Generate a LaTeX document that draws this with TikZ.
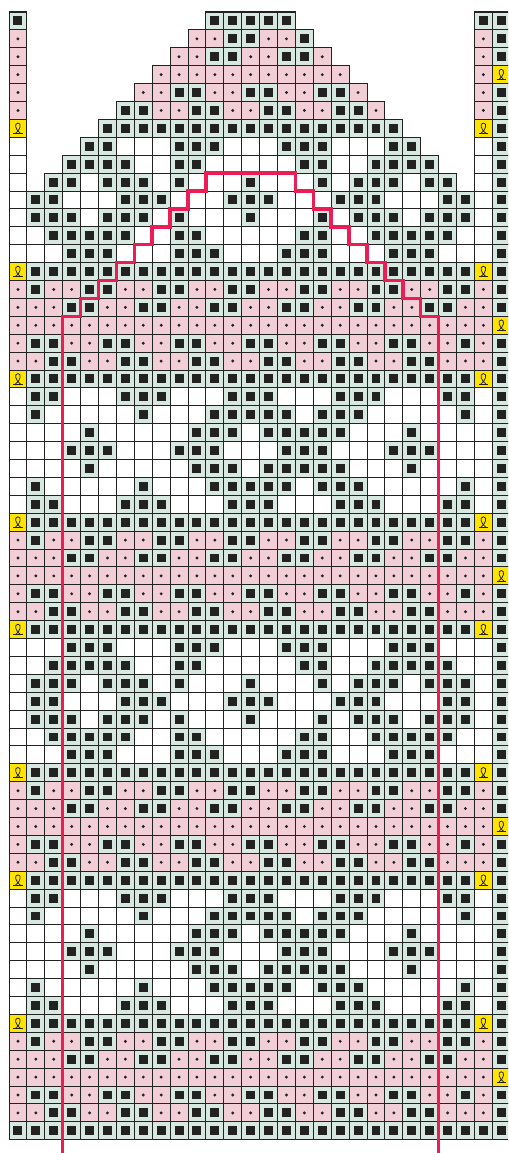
\documentclass[tikz,border=0pt]{standalone}
\definecolor{chartMint}{HTML}{D6E8E0}
\definecolor{chartPink}{HTML}{F2CFD6}
\definecolor{chartYellow}{HTML}{FFE400}
\definecolor{chartRed}{HTML}{EC1C54}
\definecolor{chartInk}{HTML}{222222}

% g = knit square, p = purl dot, w = plain, y = loop, e = no stitch
\newcommand{\rowsolid}{y ggggg ggggg ggggg ggggg ggggg yg}
\newcommand{\rowdots}{p ppppp ppppp ppppp ppppp ppppp py}
\newcommand{\rowdiagA}{p g ppgg ppgg ppgg ppgg ppgg ppgg pg}
\newcommand{\rowdiagB}{p ppgg ppgg ppgg ppgg ppgg ppgg p pg}
\newcommand{\rowdiagC}{p ggpp ggpp ggpp ggpp ggpp ggpp g pg}
\newcommand{\rowdiagD}{p p ggpp ggpp ggpp ggpp ggpp ggpp pg}
\newcommand{\rowcrossA}{w ww ggg www ggg www ggg www ggg ww wg}
\newcommand{\rowcrossB}{w w ggggg ww gg wwwww gg ww ggggg w wg}
\newcommand{\rowcrossC}{w ggg w ggg w g www g www g w ggg w ggg wg}
\newcommand{\rowcrossD}{w gg www ggg www ggg www ggg www gg wg}
\newcommand{\rowdiamB}{w g wwwww g www ggggg w ggg wwwww g wg}
\newcommand{\rowdiamC}{w www g wwwww ggg w ggggg www g www wg}

\newcount\chartcol
\newcommand{\cellrow}[2]{\chartcol=0 \edef\celltmp{\noexpand\cellnext{#1}#2.}\celltmp}
\def\cellnext#1#2{%
  \ifx.#2\let\cellgo\relax
  \else\def\cellgo{\pic at (\the\chartcol,-#1) {cell#2};\advance\chartcol by 1 \cellnext{#1}}%
  \fi\cellgo}

\tikzset{
  cellbox/.style={draw=chartInk, line width=0.8pt},
  trimline/.style={chartRed, line width=2.8pt},
  cellg/.pic={\filldraw[cellbox, fill=chartMint] (0,0) rectangle (1,-1);
    \fill[chartInk] (0.25,-0.25) rectangle (0.75,-0.75);},
  cellp/.pic={\filldraw[cellbox, fill=chartPink] (0,0) rectangle (1,-1);
    \fill[chartInk] (0.5,-0.5) circle (0.09);},
  cellw/.pic={\filldraw[cellbox, fill=white] (0,0) rectangle (1,-1);},
  celly/.pic={\filldraw[cellbox, fill=chartYellow] (0,0) rectangle (1,-1);
    \draw[chartInk, line width=0.6pt] (0.24,-0.78) -- (0.76,-0.78);
    \draw[chartInk, line width=0.6pt] (0.36,-0.78) .. controls (0.62,-0.62) and (0.74,-0.2) .. (0.5,-0.2)
      .. controls (0.26,-0.2) and (0.38,-0.62) .. (0.64,-0.78);},
  celle/.pic={}
}

\begin{document}
\begin{tikzpicture}[x=0.5cm, y=0.5cm]
   \useasboundingbox (-0.503,0.670) rectangle (27.877,-63.74);
   \clip (-0.503,0.670) rectangle (27.877,-63.74);
   % Chart cells, one string per row
   \foreach \codes [count=\rowno from 0] in {
      g eeeeeeeeee ggggg eeeeeeeeee gg,
      p eeeeeeeee ppggppg eeeeeeeee pg,
      p eeeeeeee ppggppggp eeeeeeee pg,
      p eeeeeee ppppppppppp eeeeeee py,
      p eeeeee ppggppggppggp eeeeee pg,
      p eeeee ggppggppggppggp eeeee pg,
      y eeee ggggggggggggggggg eeee yg,
      w eee gg www ggg www ggg www gg eee wg,
      w ee gggg ww gg wwwww gg ww gggg ee wg,
      w e gg w ggg w g www g www g w ggg w gg e wg,
      \rowcrossD, \rowcrossC, \rowcrossB, \rowcrossA,
      \rowsolid, \rowdiagA, \rowdiagB, \rowdots, \rowdiagC, \rowdiagD, \rowsolid,
      \rowcrossD, \rowdiamB, \rowdiamC, \rowcrossA, \rowdiamC, \rowdiamB, \rowcrossD,
      \rowsolid, \rowdiagA, \rowdiagB, \rowdots, \rowdiagC, \rowdiagD, \rowsolid,
      \rowcrossA, \rowcrossB, \rowcrossC, \rowcrossD, \rowcrossC, \rowcrossB, \rowcrossA,
      \rowsolid, \rowdiagA, \rowdiagB, \rowdots, \rowdiagC, \rowdiagD, \rowsolid,
      \rowcrossD, \rowdiamB, \rowdiamC, \rowcrossA, \rowdiamC, \rowdiamB, \rowcrossD,
      \rowsolid, \rowdiagA, \rowdiagB, \rowdots, \rowdiagC, \rowdiagD,
      g ggggg ggggg ggggg ggggg ggggg gg}
      {\cellrow{\rowno}{\codes}}
   % Pattern contour
   \draw[trimline] (3,-64) -- (3,-17) -- (4,-17) -- (4,-16) -- (5,-16) -- (5,-15) -- (6,-15)
      -- (6,-14) -- (7,-14) -- (7,-13) -- (8,-13) -- (8,-12) -- (9,-12) -- (9,-11) -- (10,-11)
      -- (10,-10) -- (11,-10) -- (11,-9) -- (16,-9) -- (16,-10) -- (17,-10) -- (17,-11)
      -- (18,-11) -- (18,-12) -- (19,-12) -- (19,-13) -- (20,-13) -- (20,-14) -- (21,-14)
      -- (21,-15) -- (22,-15) -- (22,-16) -- (23,-16) -- (23,-17) -- (24,-17) -- (24,-64);
\end{tikzpicture}
\end{document}
